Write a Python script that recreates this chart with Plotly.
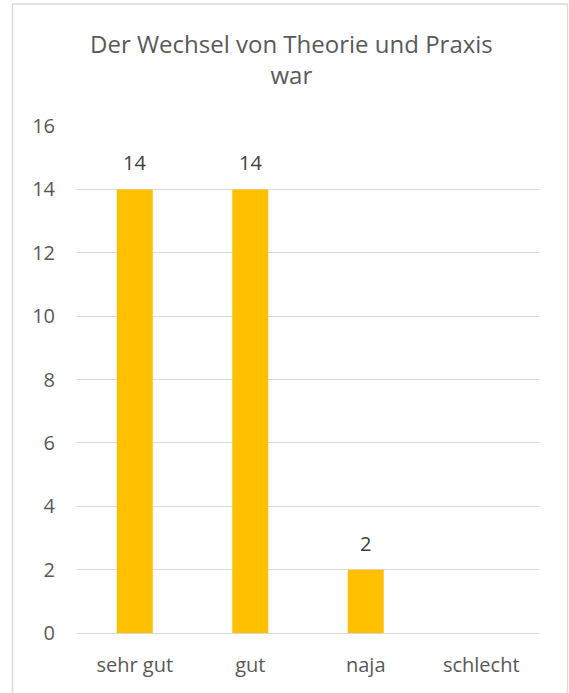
import plotly.graph_objects as go

categories = ["sehr gut", "gut", "naja", "schlecht"]
values = [14, 14, 2, 0]
title_lines = ["Der Wechsel von Theorie und Praxis", "war"]
y_ticks = [0, 2, 4, 6, 8, 10, 12, 14, 16]

W, H = 569, 693
L, R, T, B = 77, 30, 126, 60
pw, ph = W - L - R, H - T - B

def px(x):
    return (x - L) / pw

def py(y):
    return (H - B - y) / ph

text_col = "#595959"
font = "Open Sans"

fig = go.Figure()
fig.add_trace(go.Bar(
    x=categories, y=values,
    marker=dict(color="#FFC000", line=dict(width=0)),
    hoverinfo="skip",
))

for c, v in zip(categories, values):
    if v:
        fig.add_annotation(x=c, y=v, xref="x", yref="y", text=str(v),
                           showarrow=False, yanchor="bottom", yshift=11,
                           font=dict(family=font, size=20, color="#404040"))

fig.add_annotation(x=px(291), y=py(59), xref="paper", yref="paper",
                   text="<br>".join(title_lines), showarrow=False,
                   xanchor="center", yanchor="middle", align="center",
                   font=dict(family=font, size=24, color=text_col))

fig.add_shape(type="rect", xref="paper", yref="paper",
              x0=px(12.5), x1=px(567.5), y0=py(720), y1=py(4),
              line=dict(color="#D9D9D9", width=1.3), fillcolor="rgba(0,0,0,0)", layer="below")

fig.update_layout(
    width=W, height=H,
    margin=dict(l=L, r=R, t=T, b=B, pad=0),
    paper_bgcolor="white", plot_bgcolor="white",
    bargap=0.688,
    showlegend=False,
    font=dict(family=font, size=20, color=text_col),
    xaxis=dict(showgrid=False, showline=False, ticks="", ticklabelstandoff=18,
               tickfont=dict(family=font, size=20, color=text_col)),
    yaxis=dict(range=[0, 16], tickvals=y_ticks, showgrid=True, gridcolor="#D9D9D9", gridwidth=1.3,
               zeroline=True, zerolinecolor="#D9D9D9", zerolinewidth=1.3,
               showline=False, ticks="", ticklabelstandoff=21,
               tickfont=dict(family=font, size=20, color=text_col)),
)

fig.write_html("out.html")
